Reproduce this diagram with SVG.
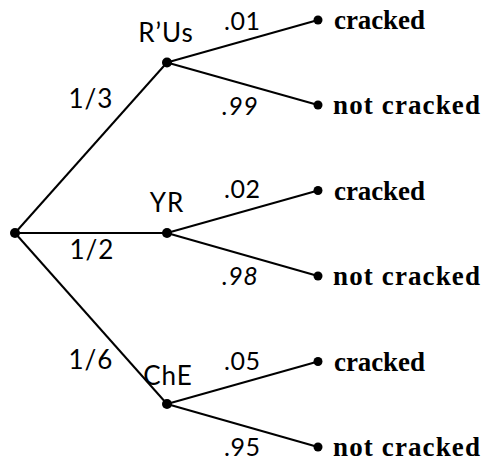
<svg xmlns="http://www.w3.org/2000/svg" width="482" height="464" viewBox="0 0 482 464">
<style>
.e{stroke:#000;stroke-width:2;fill:none}
.d{fill:#000}
.n{font-family:"Lato","Open Sans",sans-serif;font-size:26px;fill:#000;text-anchor:middle;letter-spacing:1px}
.p{font-family:"Lato","Open Sans",sans-serif;font-size:25px;fill:#000;letter-spacing:0.5px}
.l{font-family:"Liberation Serif","DejaVu Serif",serif;font-weight:bold;font-size:27px;fill:#000}
</style>
<rect width="482" height="464" fill="#fff"/>
<g id="connectors">
<line class="e" x1="15" y1="233" x2="167" y2="62.5"/>
<line class="e" x1="15" y1="233" x2="167" y2="233"/>
<line class="e" x1="15" y1="233" x2="167" y2="404"/>
<line class="e" x1="167" y1="62.5" x2="318" y2="20"/>
<line class="e" x1="167" y1="62.5" x2="318" y2="105"/>
<line class="e" x1="167" y1="233" x2="318" y2="190.5"/>
<line class="e" x1="167" y1="233" x2="318" y2="276"/>
<line class="e" x1="167" y1="404" x2="318" y2="361.5"/>
<line class="e" x1="167" y1="404" x2="318" y2="447"/>
<text class="n" x="91" y="108">1/3</text>
<text class="n" x="92" y="259">1/2</text>
<text class="n" x="91" y="369">1/6</text>
<text class="p" x="224" y="30">.01</text>
<text class="p" x="222" y="115" font-style="italic">.99</text>
<text class="p" x="224" y="198">.02</text>
<text class="p" x="222" y="285" font-style="italic">.98</text>
<text class="p" x="224" y="370">.05</text>
<text class="p" x="224" y="456">.95</text>
</g>
<g id="root"><circle class="d" cx="15" cy="233" r="5"/></g>
<g id="rus"><circle class="d" cx="167" cy="62.5" r="5"/><text class="n" x="166" y="42">R’Us</text></g>
<g id="yr"><circle class="d" cx="167" cy="233" r="5"/><text class="n" x="167" y="212">YR</text></g>
<g id="che"><circle class="d" cx="167" cy="404" r="5"/><text class="n" x="168" y="385">ChE</text></g>
<g id="leaf1"><circle class="d" cx="318" cy="20" r="4.5"/><text class="l" x="334" y="29" textLength="91">cracked</text></g>
<g id="leaf2"><circle class="d" cx="318" cy="105" r="4.5"/><text class="l" x="333" y="114" textLength="147">not cracked</text></g>
<g id="leaf3"><circle class="d" cx="318" cy="190.5" r="4.5"/><text class="l" x="334" y="199.5" textLength="91">cracked</text></g>
<g id="leaf4"><circle class="d" cx="318" cy="276" r="4.5"/><text class="l" x="333" y="285" textLength="147">not cracked</text></g>
<g id="leaf5"><circle class="d" cx="318" cy="361.5" r="4.5"/><text class="l" x="334" y="370.5" textLength="91">cracked</text></g>
<g id="leaf6"><circle class="d" cx="318" cy="447" r="4.5"/><text class="l" x="333" y="456" textLength="147">not cracked</text></g>
</svg>
